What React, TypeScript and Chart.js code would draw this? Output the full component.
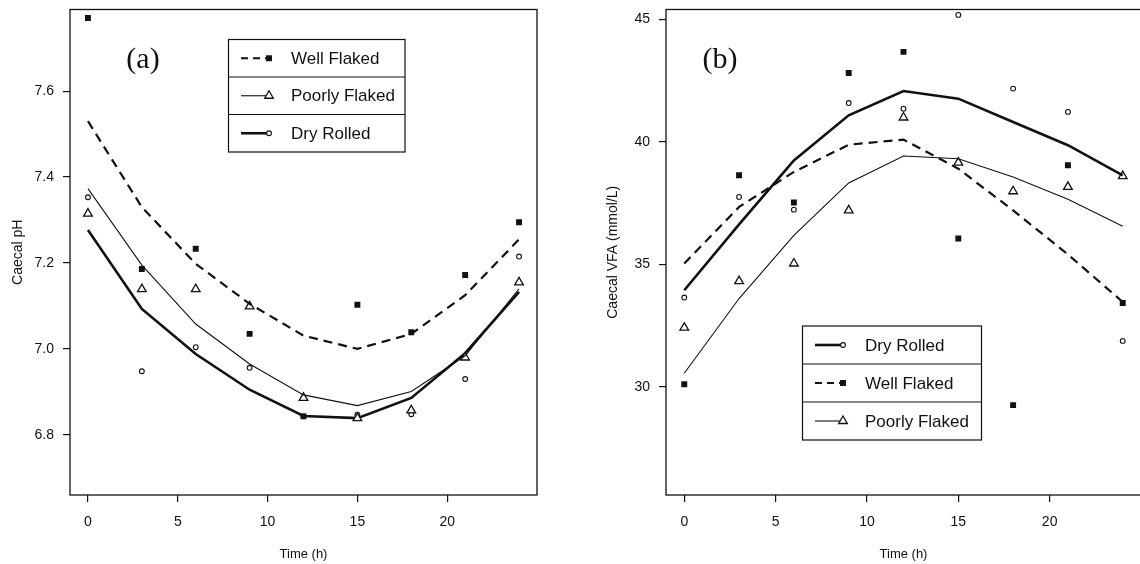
import React, { useEffect, useRef } from 'react';
import { Chart, registerables } from 'chart.js';

Chart.register(...registerables);

// ---------- data ----------
const HOURS = [0, 3, 6, 9, 12, 15, 18, 21, 24];
const X_TICKS = [0, 5, 10, 15, 20];
const PH_TICKS = [6.8, 7.0, 7.2, 7.4, 7.6];
const VFA_TICKS = [30, 35, 40, 45];

// (a) Caecal pH
const phWellObs = [7.77, 7.186, 7.233, 7.035, 6.843, 7.103, 7.039, 7.172, 7.295];
const phWellFit = [7.53, 7.33, 7.198, 7.105, 7.031, 7.0, 7.035, 7.125, 7.255];
const phPoorObs = [7.315, 7.139, 7.139, 7.099, 6.886, 6.839, 6.857, 6.98, 7.155];
const phPoorFit = [7.373, 7.195, 7.058, 6.965, 6.893, 6.868, 6.901, 6.984, 7.14];
const phDryObs = [7.353, 6.948, 7.004, 6.956, 6.843, 6.847, 6.848, 6.93, 7.215];
const phDryFit = [7.277, 7.093, 6.988, 6.905, 6.844, 6.839, 6.886, 6.99, 7.133];

// (b) Caecal VFA (mmol/L)
const vfaWellObs = [30.1, 38.63, 37.52, 42.81, 43.67, 36.05, 29.25, 39.04, 33.42];
const vfaWellFit = [35.03, 37.34, 38.77, 39.88, 40.09, 38.9, 37.2, 35.4, 33.46];
const vfaDryObs = [33.64, 37.75, 37.23, 41.58, 41.35, 45.18, 42.17, 41.22, 31.87];
const vfaDryFit = [33.94, 36.63, 39.24, 41.08, 42.07, 41.76, 40.81, 39.86, 38.63];
const vfaPoorObs = [32.41, 34.31, 35.03, 37.2, 40.99, 39.15, 37.98, 38.16, 38.6];
const vfaPoorFit = [30.55, 33.6, 36.18, 38.32, 39.42, 39.31, 38.56, 37.65, 36.55];

const NAMES = { well: 'Well Flaked', poor: 'Poorly Flaked', dry: 'Dry Rolled' };

// ---------- styles ----------
const INK = '#111';
const SANS = '"Liberation Sans", Arial, sans-serif';
const SERIF = '"Liberation Serif", "Times New Roman", serif';

type Key = 'well' | 'poor' | 'dry';
const STYLES: Record<Key, any> = {
  well: { dash: [9, 6], width: 2.2, point: 'rect', radius: 4.2, fill: true, pb: 0 },
  poor: { dash: [], width: 1.1, point: 'triangle', radius: 5, fill: false, pb: 1.3 },
  dry: { dash: [], width: 2.6, point: 'circle', radius: 2.4, fill: false, pb: 1.1 },
};

function drawMarker(ctx: CanvasRenderingContext2D, key: Key, x: number, y: number) {
  const st = STYLES[key];
  ctx.save();
  ctx.setLineDash([]);
  ctx.lineWidth = st.pb || 1;
  ctx.strokeStyle = INK;
  ctx.fillStyle = st.fill ? INK : '#fff';
  ctx.beginPath();
  const r = st.radius;
  if (st.point === 'rect') {
    const h = r * Math.SQRT1_2;
    ctx.rect(x - h, y - h, 2 * h, 2 * h);
  } else if (st.point === 'triangle') {
    let a = 0;
    ctx.moveTo(x + Math.sin(a) * r, y - Math.cos(a) * r);
    a += (2 * Math.PI) / 3;
    ctx.lineTo(x + Math.sin(a) * r, y - Math.cos(a) * r);
    a += (2 * Math.PI) / 3;
    ctx.lineTo(x + Math.sin(a) * r, y - Math.cos(a) * r);
  } else {
    ctx.arc(x, y, r, 0, Math.PI * 2);
  }
  ctx.closePath();
  ctx.fill();
  if (!st.fill) ctx.stroke();
  ctx.restore();
}

interface Series { key: Key; obs: number[]; fit: number[] }

function makeDatasets(series: Series[]) {
  const ds: any[] = [];
  for (const s of series) {
    const st = STYLES[s.key];
    ds.push({
      label: NAMES[s.key] + ' (fit)',
      data: HOURS.map((h, i) => ({ x: h, y: s.fit[i] })),
      showLine: true,
      borderColor: INK,
      borderWidth: st.width,
      borderDash: st.dash,
      pointRadius: 0,
      fill: false,
      tension: 0,
    });
    ds.push({
      label: NAMES[s.key],
      data: HOURS.map((h, i) => ({ x: h, y: s.obs[i] })),
      showLine: false,
      pointStyle: st.point,
      pointRadius: st.radius,
      pointBackgroundColor: st.fill ? INK : '#fff',
      pointBorderColor: INK,
      pointBorderWidth: st.pb,
    });
  }
  return ds;
}

const framePlugin = {
  id: 'frame',
  afterDraw(chart: any, _args: any, opts: any) {
    const { ctx, chartArea } = chart;
    const { left, top, right, bottom } = chartArea;
    ctx.save();
    ctx.strokeStyle = INK;
    ctx.lineWidth = 1.3;
    ctx.setLineDash([]);
    ctx.strokeRect(left, top, right - left, bottom - top);

    // panel label
    ctx.fillStyle = INK;
    ctx.font = `30px ${SERIF}`;
    ctx.textAlign = 'center';
    ctx.textBaseline = 'middle';
    ctx.fillText(opts.panel, opts.panelX, opts.panelY);

    // legend table
    const { lx, ly, lw, rowH, order } = opts;
    ctx.lineWidth = 1.2;
    ctx.strokeRect(lx, ly, lw, rowH * order.length);
    for (let i = 1; i < order.length; i++) {
      ctx.beginPath();
      ctx.moveTo(lx, ly + rowH * i);
      ctx.lineTo(lx + lw, ly + rowH * i);
      ctx.stroke();
    }
    order.forEach((key: Key, i: number) => {
      const st = STYLES[key];
      const cy = ly + rowH * i + rowH / 2;
      ctx.save();
      ctx.lineWidth = st.width;
      ctx.setLineDash(key === 'well' ? [7, 5] : []);
      ctx.beginPath();
      ctx.moveTo(lx + 12.5, cy);
      ctx.lineTo(lx + 40.5, cy);
      ctx.stroke();
      ctx.restore();
      drawMarker(ctx, key, lx + 40.5, cy);
      ctx.fillStyle = INK;
      ctx.font = `17px ${SANS}`;
      ctx.textAlign = 'left';
      ctx.textBaseline = 'middle';
      ctx.fillText(NAMES[key], lx + 62.5, cy + 1);
    });
    ctx.restore();
  },
};

interface PanelSpec {
  series: Series[];
  yMin: number;
  yMax: number;
  yTicks: number[];
  yFmt: (v: number) => string;
  yTitle: string;
  yWidth: number;
  yTitlePad: number;
  rightPad: number;
  canvasWidth: number;
  frame: any;
}

function zeroPad(s: any) {
  s.paddingTop = 0;
  s.paddingBottom = 0;
  s.paddingLeft = 0;
  s.paddingRight = 0;
}

function buildConfig(spec: PanelSpec): any {
  const tickFont = { family: SANS, size: 14 };
  return {
    type: 'scatter',
    data: { datasets: makeDatasets(spec.series) },
    plugins: [framePlugin],
    options: {
      animation: false,
      responsive: false,
      devicePixelRatio: 1,
      events: [],
      layout: { padding: { left: 0, top: 9.5, right: spec.rightPad, bottom: 0 } },
      plugins: {
        legend: { display: false },
        tooltip: { enabled: false },
        frame: spec.frame,
      },
      scales: {
        x: {
          type: 'linear',
          min: -1,
          max: 25,
          afterBuildTicks: (s: any) => {
            s.ticks = X_TICKS.map((v) => ({ value: v }));
          },
          afterFit: (s: any) => {
            s.height = 69;
            zeroPad(s);
          },
          grid: { display: true, drawOnChartArea: false, drawTicks: true, tickLength: 7, color: INK, lineWidth: 1.2 },
          border: { display: false },
          ticks: { padding: 12, color: INK, font: tickFont, maxRotation: 0, autoSkip: false },
          title: { display: true, text: 'Time (h)', color: INK, font: { family: SANS, size: 13 }, padding: { top: 0, bottom: 2 } },
        },
        y: {
          type: 'linear',
          min: spec.yMin,
          max: spec.yMax,
          afterBuildTicks: (s: any) => {
            s.ticks = spec.yTicks.map((v) => ({ value: v }));
          },
          afterFit: (s: any) => {
            s.width = spec.yWidth;
            zeroPad(s);
          },
          grid: { display: true, drawOnChartArea: false, drawTicks: true, tickLength: 7, color: INK, lineWidth: 1.2 },
          border: { display: false },
          ticks: { padding: 9, color: INK, font: tickFont, autoSkip: false, callback: (v: any) => spec.yFmt(Number(v)) },
          title: { display: true, text: spec.yTitle, color: INK, font: { family: SANS, size: 14 }, padding: { top: spec.yTitlePad, bottom: 0 } },
        },
      },
    },
  };
}

const LEFT_SPEC: PanelSpec = {
  series: [
    { key: 'well', obs: phWellObs, fit: phWellFit },
    { key: 'poor', obs: phPoorObs, fit: phPoorFit },
    { key: 'dry', obs: phDryObs, fit: phDryFit },
  ],
  yMin: 6.66,
  yMax: 7.79,
  yTicks: PH_TICKS,
  yFmt: (v) => v.toFixed(1),
  yTitle: 'Caecal pH',
  yWidth: 70,
  yTitlePad: 9.6,
  rightPad: 33,
  canvasWidth: 570,
  frame: { panel: '(a)', panelX: 143, panelY: 60, lx: 228.5, ly: 39.5, lw: 176.5, rowH: 37.5, order: ['well', 'poor', 'dry'] },
};

// the right panel's frame runs off the picture's right edge, so its canvas is a little wider than the page
const RIGHT_SPEC: PanelSpec = {
  series: [
    { key: 'dry', obs: vfaDryObs, fit: vfaDryFit },
    { key: 'well', obs: vfaWellObs, fit: vfaWellFit },
    { key: 'poor', obs: vfaPoorObs, fit: vfaPoorFit },
  ],
  yMin: 25.58,
  yMax: 45.4,
  yTicks: VFA_TICKS,
  yFmt: (v) => String(Math.round(v)),
  yTitle: 'Caecal VFA (mmol/L)',
  yWidth: 96,
  yTitlePad: 34.6,
  rightPad: 9,
  canvasWidth: 580,
  frame: { panel: '(b)', panelX: 150, panelY: 60, lx: 232.5, ly: 326, lw: 179, rowH: 38, order: ['dry', 'well', 'poor'] },
};

function Panel({ spec, left }: { spec: PanelSpec; left: number }) {
  const ref = useRef<HTMLCanvasElement>(null);
  useEffect(() => {
    if (!ref.current) return;
    const chart = new Chart(ref.current, buildConfig(spec));
    return () => chart.destroy();
  }, [spec]);
  return (
    <canvas
      ref={ref}
      width={spec.canvasWidth}
      height={564}
      style={{ position: 'absolute', left, top: 0, width: spec.canvasWidth, height: 564 }}
    />
  );
}

export default function App() {
  return (
    <div style={{ position: 'fixed', left: 0, top: 0, width: 1140, height: 564, background: '#fff', overflow: 'hidden' }}>
      <Panel spec={LEFT_SPEC} left={0} />
      <Panel spec={RIGHT_SPEC} left={570} />
    </div>
  );
}
